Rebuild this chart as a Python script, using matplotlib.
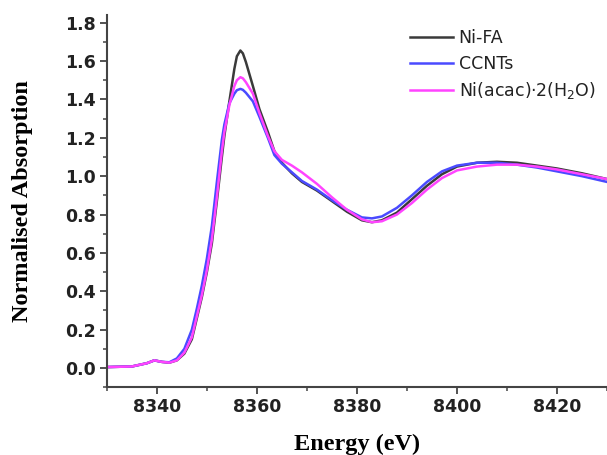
import matplotlib
matplotlib.use("Agg")
import matplotlib.pyplot as plt
from matplotlib.ticker import MultipleLocator

# energy grid (eV)
energy = [8330, 8335, 8338, 8339.5, 8341, 8342.5, 8344, 8345.5, 8347, 8348,
          8349, 8350, 8351, 8352, 8353, 8353.5, 8354.5, 8355.5, 8356, 8356.7,
          8357.2, 8357.8, 8359.2, 8360.5, 8362.2, 8363.5, 8365, 8367, 8369, 8372,
          8375, 8378, 8381, 8383, 8385, 8388, 8391, 8394, 8397, 8400,
          8404, 8408, 8412, 8416, 8420, 8425, 8430]

ni_fa = [0.005, 0.008, 0.025, 0.04, 0.032, 0.028, 0.04, 0.075, 0.15, 0.26,
         0.37, 0.50, 0.65, 0.87, 1.10, 1.21, 1.39, 1.56, 1.625, 1.655,
         1.64, 1.595, 1.47, 1.35, 1.23, 1.13, 1.07, 1.015, 0.97, 0.925,
         0.87, 0.815, 0.77, 0.76, 0.77, 0.81, 0.88, 0.95, 1.01, 1.05,
         1.07, 1.075, 1.07, 1.055, 1.04, 1.015, 0.985]

ccnts = [0.005, 0.008, 0.025, 0.04, 0.032, 0.03, 0.05, 0.10, 0.20, 0.31,
         0.43, 0.57, 0.74, 0.97, 1.19, 1.27, 1.38, 1.43, 1.448, 1.455,
         1.45, 1.435, 1.39, 1.31, 1.20, 1.11, 1.065, 1.02, 0.975, 0.93,
         0.875, 0.825, 0.785, 0.78, 0.79, 0.835, 0.90, 0.97, 1.025, 1.055,
         1.07, 1.07, 1.06, 1.045, 1.025, 1.0, 0.97]

ni_acac = [0.005, 0.008, 0.025, 0.04, 0.032, 0.028, 0.04, 0.08, 0.16, 0.27,
           0.38, 0.51, 0.67, 0.89, 1.13, 1.23, 1.37, 1.47, 1.50, 1.516,
           1.51, 1.49, 1.43, 1.33, 1.21, 1.13, 1.085, 1.055, 1.02, 0.96,
           0.89, 0.825, 0.775, 0.76, 0.765, 0.80, 0.86, 0.93, 0.99, 1.03,
           1.05, 1.06, 1.06, 1.05, 1.035, 1.01, 0.985]

labels = ["Ni-FA", "CCNTs", "Ni(acac)\u00b72(H$_2$O)"]
colors = ["#3a3a3a", "#4a4aff", "#ff44ff"]

fig = plt.figure(figsize=(6.07, 4.55), dpi=100)
ax = fig.add_axes([0.176, 0.149, 0.824, 0.818])

for y, lab, c in zip([ni_fa, ccnts, ni_acac], labels, colors):
    ax.plot(energy, y, color=c, lw=1.8, label=lab)

ax.set_xlim(8330, 8430)
ax.set_ylim(-0.1, 1.84)
ax.xaxis.set_major_locator(MultipleLocator(20))
ax.xaxis.set_minor_locator(MultipleLocator(10))
ax.yaxis.set_major_locator(MultipleLocator(0.2))
ax.yaxis.set_minor_locator(MultipleLocator(0.1))
ax.yaxis.set_major_formatter(plt.FormatStrFormatter("%.1f"))

ax.spines['right'].set_visible(False)
ax.spines['top'].set_visible(False)
for s in ['left', 'bottom']:
    ax.spines[s].set_linewidth(1.5)
    ax.spines[s].set_color("#444444")

ax.tick_params(which='major', direction='out', length=5, width=1.3, color="#444444", pad=3)
ax.tick_params(which='minor', direction='out', length=3, width=1.1, color="#444444")
for t in ax.get_xticklabels() + ax.get_yticklabels():
    t.set_fontfamily("DejaVu Sans")
    t.set_fontweight("bold")
    t.set_fontsize(12.5)
    t.set_color("#222222")

ax.set_xlabel("Energy (eV)", family="Liberation Serif", weight="bold", fontsize=17.5)
ax.set_ylabel("Normalised Absorption", family="Liberation Serif", weight="bold", fontsize=17.5)
ax.yaxis.set_label_coords(-0.148, 0.5)
ax.xaxis.set_label_coords(0.5, -0.125)

leg = ax.legend(loc='upper left', bbox_to_anchor=(0.575, 1.005), frameon=False,
                handlelength=2.5, handletextpad=0.3, labelspacing=0.45,
                prop={'family': 'DejaVu Sans', 'size': 12.5})
for txt in leg.get_texts():
    txt.set_color("#222222")

fig.savefig("out.png", dpi=100)
